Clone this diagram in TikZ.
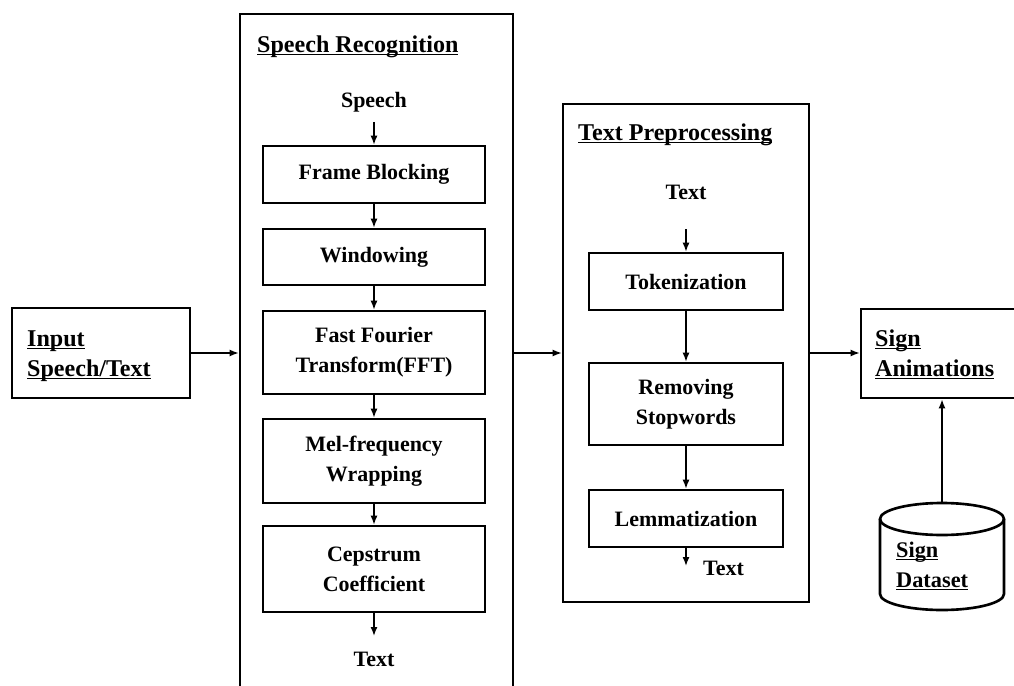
\documentclass[tikz,border=0pt]{standalone}
\usepackage{fontspec}
\setmainfont{Liberation Serif}
\usetikzlibrary{arrows.meta,positioning,shapes.geometric}
\newcommand{\uln}[1]{\underline{\smash{#1}}}

\begin{document}
\begin{tikzpicture}[x=0.02cm,y=-0.02cm,
  font=\fontsize{12.5}{17}\selectfont\bfseries,
  frame/.style={draw,line width=1.6pt},
  stage/.style={draw,line width=1.5pt,minimum width=4.44cm,align=center,inner sep=1pt},
  tstage/.style={stage,minimum width=3.88cm},
  head/.style={font=\fontsize{13.7}{17}\selectfont\bfseries,align=left},
  arr/.style={-{Latex[length=1.8mm,width=1.4mm]},line width=0.8pt}]
\useasboundingbox (0,0) rectangle (1014,686);

% input and output
\node[frame,minimum width=3.56cm,minimum height=1.8cm] (in) at (101,353) {};
\node[head,anchor=west] (intxt) at (21,363) {\uln{Input}\\\uln{Speech/Text}};
\node[frame,minimum width=3.58cm,minimum height=1.78cm] (sign) at (950.5,353.5) {};
\node[head,anchor=west] (signtxt) at (869,363) {\uln{Sign}\\\uln{Animations}};
% dataset drum
\draw[line width=1.5pt] (942,519) ellipse [x radius=1.24cm,y radius=0.32cm];
\draw[line width=1.5pt] (880,519) -- (880,594)
  arc[start angle=180,end angle=360,x radius=1.24cm,y radius=0.32cm] -- (1004,519);
\coordinate (db) at (942,503);
\node[anchor=west,align=left,font=\fontsize{12.7}{17}\selectfont\bfseries] (dbtxt) at (890,574)
  {\uln{Sign}\\\uln{Dataset}};

% speech recognition
\node[frame,minimum width=5.46cm,minimum height=14.12cm] (sr) at (376.5,367) {};
\node[head,anchor=west] (srhead) at (251,54) {\uln{Speech Recognition}};
\node (speech) at (374,102) {Speech};
\coordinate (sin) at (374,122);
\node[stage,minimum height=1.14cm] (fb) at (374,174.5) {Frame Blocking};
\node[stage,minimum height=1.12cm] (win) at (374,257) {Windowing};
\node[stage,minimum height=1.66cm] (fft) at (374,352.5) {Fast Fourier\\Transform(FFT)};
\node[stage,minimum height=1.68cm] (mel) at (374,461) {Mel-frequency\\Wrapping};
\node[stage,minimum height=1.72cm] (cep) at (374,569) {Cepstrum\\Coefficient};
\coordinate (sout) at (374,636);
\node (srtxt) at (374,659) {Text};

% text preprocessing
\node[frame,minimum width=4.92cm,minimum height=9.96cm] (tp) at (686,353) {};
\node[head,anchor=west] (tphead) at (572,142) {\uln{Text Preprocessing}};
\node (text) at (686,192) {Text};
\coordinate (tin) at (686,229);
\node[tstage,minimum height=1.14cm] (tok) at (686,281.5) {Tokenization};
\node[tstage,minimum height=1.64cm] (rem) at (686,404) {Removing\\Stopwords};
\node[tstage,minimum height=1.14cm] (lem) at (686,518.5) {Lemmatization};
\coordinate (tout) at (686,566);
\node[anchor=west] (tptxt) at (697,568) {Text};

% connectors
\draw[arr] (in.east) -- (in.east -| sr.west);
\draw[arr] (sr.east |- tp.west) -- (tp.west);
\draw[arr] (tp.east) -- (tp.east -| sign.west);
\draw[arr] (db) -- (db |- sign.south);
\draw[arr] (sin) -- (fb.north);
\draw[arr] (fb) -- (win);
\draw[arr] (win) -- (fft);
\draw[arr] (fft) -- (mel);
\draw[arr] (mel) -- (cep);
\draw[arr] (cep) -- (sout);
\draw[arr] (tin) -- (tok.north);
\draw[arr] (tok) -- (rem);
\draw[arr] (rem) -- (lem);
\draw[arr] (lem) -- (tout);
\end{tikzpicture}
\end{document}
